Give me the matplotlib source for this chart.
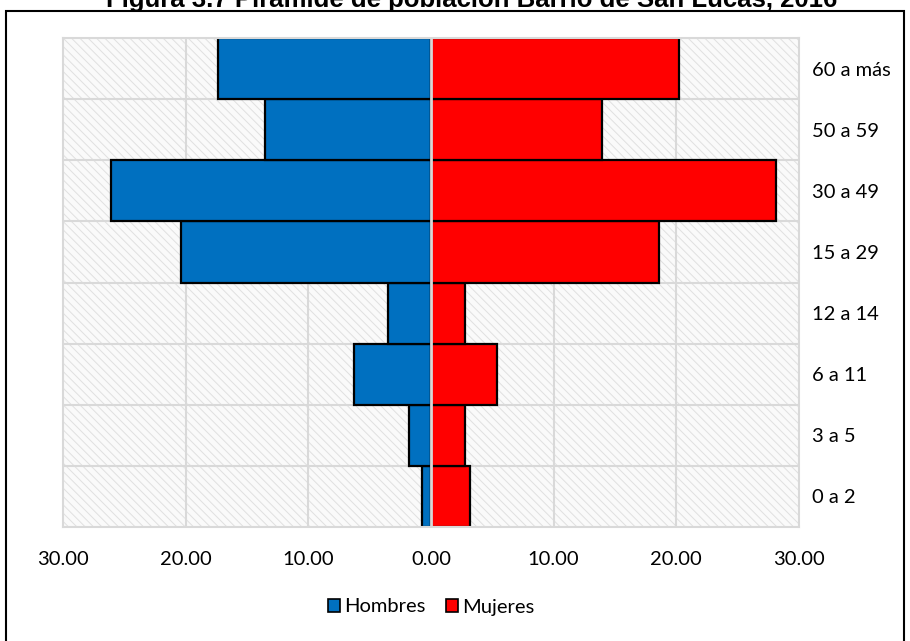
import numpy as np
import matplotlib.pyplot as plt
from matplotlib.patches import Rectangle, Patch

plt.rcParams['font.family'] = ['Lato', 'DejaVu Sans']
plt.rcParams['hatch.linewidth'] = 0.7
plt.rcParams['hatch.color'] = '#e0e0e0'

# age groups, bottom to top
grupos = ['0 a 2', '3 a 5', '6 a 11', '12 a 14', '15 a 29', '30 a 49', '50 a 59', '60 a más']
hombres = [0.75, 1.8, 6.25, 3.5, 20.4, 26.05, 13.5, 17.35]
mujeres = [3.15, 2.75, 5.35, 2.75, 18.55, 28.1, 13.9, 20.25]
xticks = [-30, -20, -10, 0, 10, 20, 30]

fig = plt.figure(figsize=(9.1, 6.41), dpi=100)
ax = fig.add_axes([63/910, 114/641, 736/910, 489/641])

y = np.arange(len(grupos))

# hatched plot-area background
ax.add_patch(Rectangle((-30, -0.5), 60, len(grupos), facecolor='#fafafa',
                       edgecolor='#e0e0e0', hatch='\\\\\\\\', lw=0, zorder=0))

# grid
for xv in [-20, -10, 10, 20]:
    ax.axvline(xv, color='#d9d9d9', lw=1.5, zorder=1)
for yv in np.arange(0.5, len(grupos) - 0.5):
    ax.axhline(yv, color='#d9d9d9', lw=1.5, zorder=1)

ax.barh(y, -np.array(hombres), height=1.0, color='#0070c0',
        edgecolor='black', lw=1.6, zorder=2)
ax.barh(y, mujeres, height=1.0, color='#ff0000',
        edgecolor='black', lw=1.6, zorder=2)
ax.axvline(0, color='#d9d9d9', lw=2, zorder=3)

ax.set_xlim(-30, 30)
ax.set_ylim(-0.5, len(grupos) - 0.5)
ax.set_xticks(xticks)
ax.set_xticklabels(['{:.2f}'.format(abs(v)) for v in xticks], fontsize=14.5)
ax.set_yticks(y)
ax.set_yticklabels(grupos, fontsize=14.5)
ax.yaxis.tick_right()
ax.tick_params(axis='y', length=0, pad=9)
ax.tick_params(axis='x', length=0, pad=17)
for s in ax.spines.values():
    s.set_color('#d9d9d9')
    s.set_linewidth(1.5)

handles = [Patch(facecolor='#0070c0', edgecolor='black', lw=1.2, label='Hombres'),
           Patch(facecolor='#ff0000', edgecolor='black', lw=1.2, label='Mujeres')]
fig.legend(handles=handles, loc='center', bbox_to_anchor=(431/910, 34/641),
           ncol=2, frameon=False, fontsize=14.5, handlelength=0.6,
           handleheight=0.6, handletextpad=0.2, columnspacing=1.0)

# outer frame and title
fig.add_artist(Rectangle((6/910, -0.02), 898/910, 0.02 + 630/641,
                         transform=fig.transFigure, fill=False,
                         edgecolor='black', lw=1.5))
fig.text(472/910, 634/641, 'Figura 3.7 Pirámide de población Barrio de San Lucas, 2016',
         ha='center', va='baseline', fontsize=18.5, fontweight='bold',
         family='Liberation Sans')

fig.savefig('out.png', dpi=100)
